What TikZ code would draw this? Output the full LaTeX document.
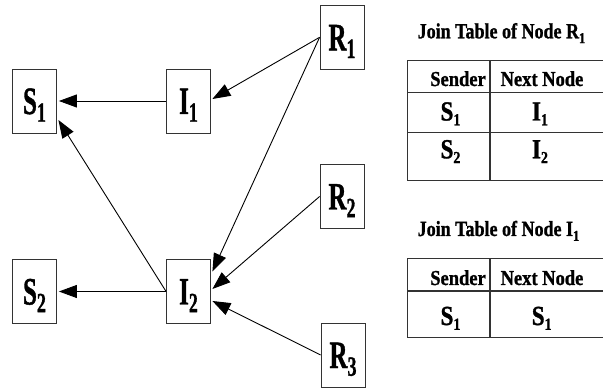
\documentclass[tikz,border=0pt]{standalone}
\usepackage{fontspec}
\setmainfont{Liberation Serif}[BoldFont={Liberation Serif Bold},BoldFeatures={FakeBold=1.2}]
\usetikzlibrary{arrows.meta,calc}

% labels of the graph nodes: tall bold letter with a lowered index
\newcommand\boxlabel[2]{\scalebox{1}[1.55]{\bfseries\fontsize{25}{25}\selectfont #1\raisebox{-5pt}{\fontsize{18}{18}\selectfont #2}}}
% node names inside the table cells
\newcommand\celllabel[2]{\scalebox{1}[1.2]{\bfseries\fontsize{23}{23}\selectfont #1\raisebox{-4pt}{\fontsize{14}{14}\selectfont #2}}}
% column headings
\newcommand\headlabel[1]{\scalebox{1}[1.15]{\bfseries\fontsize{18.5}{18.5}\selectfont #1}}
% table titles
\newcommand\titlelabel[2]{\scalebox{1}[1.2]{\bfseries\fontsize{18}{18}\selectfont #1\raisebox{-4pt}{\fontsize{12.5}{12.5}\selectfont #2}}}

\begin{document}
\begin{tikzpicture}[x=1pt,y=-1pt,
  netnode/.style={draw=black!80,line width=0.8pt,minimum width=44pt,minimum height=64pt,
    inner sep=0pt,text height=26pt,text depth=0pt},
  arr/.style={line width=0.9pt,-{Triangle[length=18pt,width=13pt]}},
  tbl/.style={draw=black!80,line width=1.3pt},
  txt/.style={inner sep=0pt,anchor=base}]
\useasboundingbox (0,0) rectangle (603,390);

% network
\node[netnode] (S1) at (34.5,101)   {\boxlabel{S}{1}};
\node[netnode] (I1) at (188.5,101)  {\boxlabel{I}{1}};
\node[netnode] (R1) at (342,37.3)   {\boxlabel{R}{1}};
\node[netnode] (R2) at (342,196.5)  {\boxlabel{R}{2}};
\node[netnode] (S2) at (34.5,291.5) {\boxlabel{S}{2}};
\node[netnode] (I2) at (188.5,291.5){\boxlabel{I}{2}};
\node[netnode] (R3) at (343,355)    {\boxlabel{R}{3}};

\draw[arr] (R1.west) -- ($(I1.east)+(1.5,-2)$);
\draw[arr] (R1.west) -- ($(I2.east)+(1.5,-20)$);
\draw[arr] (R2.west) -- ($(I2.east)+(1.5,-2.5)$);
\draw[arr] (R3.west) -- ($(I2.east)+(1.5,9.5)$);
\draw[arr] (I1.west) -- ($(S1.east)+(2,0)$);
\draw[arr] (I2.west) -- ($(S1.east)+(1.5,19)$);
\draw[arr] (I2.west) -- ($(S2.east)+(2,0)$);

% join table of R1
\node[txt,anchor=base west] (t1) at (417.5,38.3) {\titlelabel{Join Table of Node R}{1}};
\draw[tbl] (604,60.7) -| (407.3,180.3) -- (604,180.3);
\draw[tbl] (407.3,92.3) -- (604,92.3);
\draw[tbl] (407.3,132.7) -- (604,132.7);
\draw[tbl] (490,60.7) -- (490,180.3);
\node[txt,anchor=base east] (t1h1) at (486,86) {\headlabel{Sender}};
\node[txt] (t1h2) at (542,86) {\headlabel{Next Node}};
\node[txt] (t1a) at (450.5,120.5) {\celllabel{S}{1}};
\node[txt] (t1b) at (540,120.5) {\celllabel{I}{1}};
\node[txt] (t1c) at (450.5,158.3) {\celllabel{S}{2}};
\node[txt] (t1d) at (540,158.3) {\celllabel{I}{2}};

% join table of I1
\node[txt,anchor=base west] (t2) at (417.5,236) {\titlelabel{Join Table of Node I}{1}};
\draw[tbl] (604,258.3) -| (407.3,337.3) -- (604,337.3);
\draw[tbl] (407.3,291) -- (604,291);
\draw[tbl] (490,258.3) -- (490,337.3);
\node[txt,anchor=base east] (t2h1) at (486,285) {\headlabel{Sender}};
\node[txt] (t2h2) at (542,285) {\headlabel{Next Node}};
\node[txt] (t2a) at (450.5,325) {\celllabel{S}{1}};
\node[txt] (t2b) at (541.7,325) {\celllabel{S}{1}};
\end{tikzpicture}
\end{document}
